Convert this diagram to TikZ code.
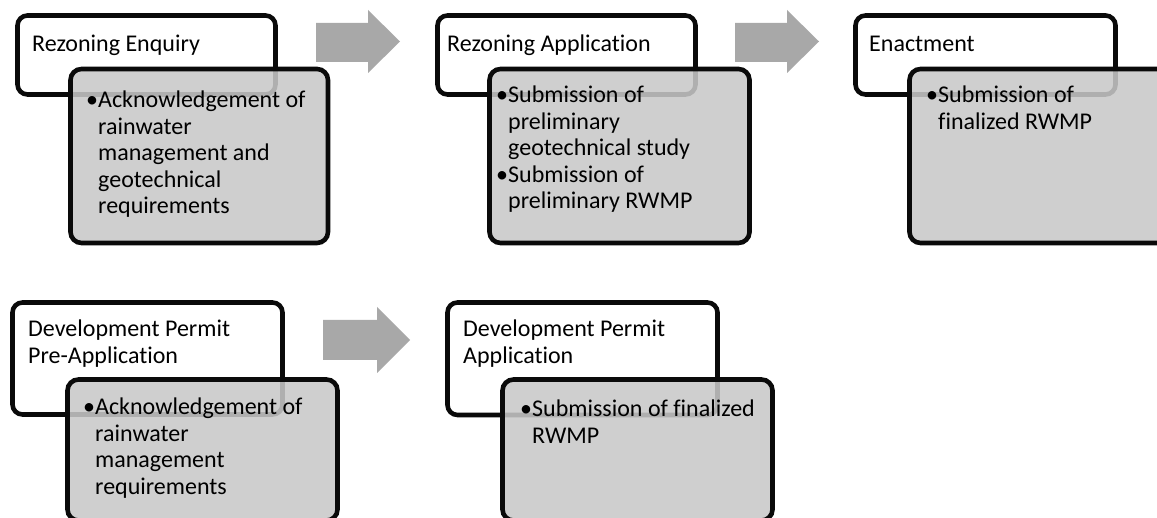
\documentclass[tikz,border=0pt]{standalone}
\usepackage{fontspec}
\setmainfont{Carlito}[RawFeature=-liga]
\definecolor{boxgray}{RGB}{200,200,200}
\definecolor{arrowgray}{RGB}{168,168,168}
\definecolor{edge}{RGB}{10,10,10}
\tikzset{
  wbox/.style={draw=edge, line width=4.6pt, rounded corners=10pt, fill=white, inner sep=0pt},
  gbox/.style={draw=edge, line width=4.6pt, rounded corners=11pt, fill=boxgray, fill opacity=0.87, draw opacity=1, inner sep=0pt},
  txt/.style={anchor=base west, inner sep=0pt, font=\fontsize{24}{26.5}\selectfont, text=black},
  blockarrow/.style={fill=arrowgray, draw=none}
}
\newcommand{\bul}{\makebox[12pt][l]{•}}
\newcommand{\ind}{\hspace*{12pt}}
\begin{document}
\begin{tikzpicture}[x=1pt,y=-1pt]
\clip (0,0) rectangle (1157,518);
\fill[white] (0,0) rectangle (1157,518);
% ---- top row ----
\node[wbox, minimum width=258pt, minimum height=79pt] (w1) at (146.5,55) {};
\node[gbox, minimum width=257.5pt, minimum height=174pt] (g1) at (199.25,156) {};
\node[txt] (t1) at (32,52) {Rezoning Enquiry};
\node[txt] (b1) at (86,108) {\begin{tabular}[t]{@{}l@{}}\bul Acknowledgement of\\ \ind rainwater\\ \ind management and\\ \ind geotechnical\\ \ind requirements\end{tabular}};
\fill[blockarrow] (316,23) -- (368,23) -- (368,10) -- (400,41.5) -- (368,73) -- (368,62) -- (316,62) -- cycle;

\node[wbox, minimum width=258pt, minimum height=79pt] (w2) at (566.5,55) {};
\node[gbox, minimum width=260pt, minimum height=174pt] (g2) at (619.5,156) {};
\node[txt] (t2) at (447,52) {Rezoning Application};
\node[txt] (b2) at (496,103) {\begin{tabular}[t]{@{}l@{}}\bul Submission of\\ \ind preliminary\\ \ind geotechnical study\\ \bul Submission of\\ \ind preliminary RWMP\end{tabular}};
\fill[blockarrow] (735,23) -- (787,23) -- (787,10) -- (819,41.5) -- (787,73) -- (787,62) -- (735,62) -- cycle;

\node[wbox, minimum width=260pt, minimum height=79pt] (w3) at (985.5,55) {};
\node[gbox, minimum width=260pt, minimum height=174pt] (g3) at (1039.5,156) {};
\node[txt] (t3) at (869,52) {Enactment};
\node[txt] (b3) at (926,103) {\begin{tabular}[t]{@{}l@{}}\bul Submission of\\ \ind finalized RWMP\end{tabular}};

% ---- bottom row ----
\node[wbox, minimum width=270pt, minimum height=112pt] (w4) at (147.5,358.5) {};
\node[gbox, minimum width=270pt, minimum height=141pt] (g4) at (202.5,450) {};
\node[txt] (t4) at (28,337) {\begin{tabular}[t]{@{}l@{}}Development Permit\\ Pre-Application\end{tabular}};
\node[txt] (b4) at (83,415) {\begin{tabular}[t]{@{}l@{}}\bul Acknowledgement of\\ \ind rainwater\\ \ind management\\ \ind requirements\end{tabular}};
\fill[blockarrow] (323,320) -- (377,320) -- (377,307) -- (410,340) -- (377,373) -- (377,360) -- (323,360) -- cycle;

\node[wbox, minimum width=270pt, minimum height=112.5pt] (w5) at (582.5,358.75) {};
\node[gbox, minimum width=270pt, minimum height=141pt] (g5) at (637.5,450) {};
\node[txt] (t5) at (463,337) {\begin{tabular}[t]{@{}l@{}}Development Permit\\ Application\end{tabular}};
\node[txt] (b5) at (520,417) {\begin{tabular}[t]{@{}l@{}}\bul Submission of finalized\\ \ind RWMP\end{tabular}};
\end{tikzpicture}
\end{document}
